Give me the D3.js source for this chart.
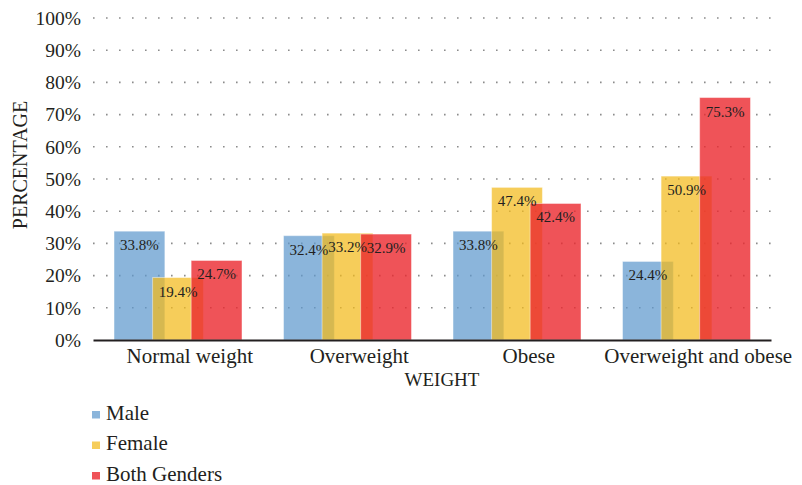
<!DOCTYPE html>
<html>
<head>
<meta charset="utf-8">
<script src="https://cdn.jsdelivr.net/npm/d3@7"></script>
<style>
  body { margin: 0; background: #fff; }
  text { font-family: "Liberation Serif", "Times New Roman", serif; fill: #231f20; }
</style>
</head>
<body>
<div id="chart"></div>
<script>
// data
const categories = ['Normal weight', 'Overweight', 'Obese', 'Overweight and obese'];
const seriesNames = ['Male', 'Female', 'Both Genders'];
const male = [33.8, 32.4, 33.8, 24.4];
const female = [19.4, 33.2, 47.4, 50.9];
const bothGenders = [24.7, 32.9, 42.4, 75.3];
const yTicks = [0, 10, 20, 30, 40, 50, 60, 70, 80, 90, 100];

const seriesValues = [male, female, bothGenders];
const colors = ['#5e98cd', '#f3ba1b', '#eb282e'];
const opacities = [0.72, 0.72, 0.8];

// layout
const width = 802, height = 485;
const margin = {t:18, r:31, b:145, l:93};
const w = width - margin.l - margin.r;
const h = height - margin.t - margin.b;

const svg = d3.select('#chart')
    .append('svg')
    .attr('width', width)
    .attr('height', height);

const plot = svg.append('g')
    .attr('transform', `translate(${margin.l},${margin.t})`);

// scales
const scaleX = d3.scaleBand()
    .domain(categories)
    .range([0, w])
    .padding(0);
const band = scaleX.bandwidth();
const barW = band * 0.3;
const scaleS = d3.scalePoint()
    .domain(seriesNames)
    .range([0, band * 0.455]);
const groupOffset = band * 0.124;

const scaleY = d3.scaleLinear()
    .domain([0, 100])
    .range([h, 0]);

// dotted gridlines
plot.append('g')
    .selectAll('line')
    .data(yTicks.filter(d => d > 0))
    .join('line')
    .attr('x1', 0)
    .attr('x2', w)
    .attr('y1', d => scaleY(d))
    .attr('y2', d => scaleY(d))
    .style('stroke', '#8c8c8c')
    .style('stroke-width', 1.6)
    .style('stroke-dasharray', '1.6 11.4');

// bars
const rows = [];
seriesNames.forEach((s, i) => {
    categories.forEach((c, j) => {
        rows.push({series: s, si: i, cat: c, value: seriesValues[i][j]});
    });
});

// draw by category so each group overlaps left to right
const ordered = categories.flatMap(c => rows.filter(r => r.cat === c));

plot.append('g')
    .selectAll('rect')
    .data(ordered)
    .join('rect')
    .attr('x', d => scaleX(d.cat) + groupOffset + scaleS(d.series))
    .attr('y', d => scaleY(d.value))
    .attr('width', barW)
    .attr('height', d => h - scaleY(d.value))
    .style('fill', d => colors[d.si])
    .style('fill-opacity', d => opacities[d.si])
    .style('stroke', '#ffffff')
    .style('stroke-opacity', 0.45)
    .style('stroke-width', 1);

// value labels
plot.append('g')
    .selectAll('text')
    .data(ordered)
    .join('text')
    .attr('x', d => scaleX(d.cat) + groupOffset + scaleS(d.series) + barW / 2)
    .attr('y', d => scaleY(d.value) + 19)
    .attr('text-anchor', 'middle')
    .style('font-size', '15px')
    .text(d => d.value.toFixed(1) + '%');

// y axis labels
const axisY = d3.axisLeft(scaleY)
    .tickValues(yTicks)
    .tickSize(0)
    .tickPadding(12)
    .tickFormat(d => d + '%');
const gy = plot.append('g').call(axisY);
gy.select('.domain').remove();
gy.selectAll('text')
    .style('font-family', '"Liberation Serif", serif')
    .style('font-size', '19.5px')
    .style('fill', '#231f20');

// x axis
const axisX = d3.axisBottom(scaleX)
    .tickSize(0)
    .tickPadding(8);
const gx = plot.append('g')
    .attr('transform', `translate(0,${h})`)
    .call(axisX);
gx.select('.domain')
    .style('stroke', '#231f20')
    .style('stroke-width', 2.2);
gx.selectAll('text')
    .attr('dx', 12)
    .style('font-family', '"Liberation Serif", serif')
    .style('font-size', '21px')
    .style('fill', '#231f20');

// axis titles
svg.append('text')
    .attr('transform', `translate(27,165) rotate(-90)`)
    .attr('text-anchor', 'middle')
    .style('font-size', '20px')
    .text('PERCENTAGE');

svg.append('text')
    .attr('x', 442)
    .attr('y', 386)
    .attr('text-anchor', 'middle')
    .style('font-size', '19px')
    .text('WEIGHT');

// legend
const legend = svg.append('g')
    .attr('transform', 'translate(92,411)');
const item = legend.selectAll('g')
    .data(seriesNames)
    .join('g')
    .attr('transform', (d, i) => `translate(0,${i * 30.5})`);
item.append('rect')
    .attr('width', 8)
    .attr('height', 7.5)
    .style('fill', (d, i) => colors[i])
    .style('fill-opacity', (d, i) => opacities[i]);
item.append('text')
    .attr('x', 14)
    .attr('y', 8.5)
    .style('font-size', '21px')
    .text(d => d);
</script>
</body>
</html>
